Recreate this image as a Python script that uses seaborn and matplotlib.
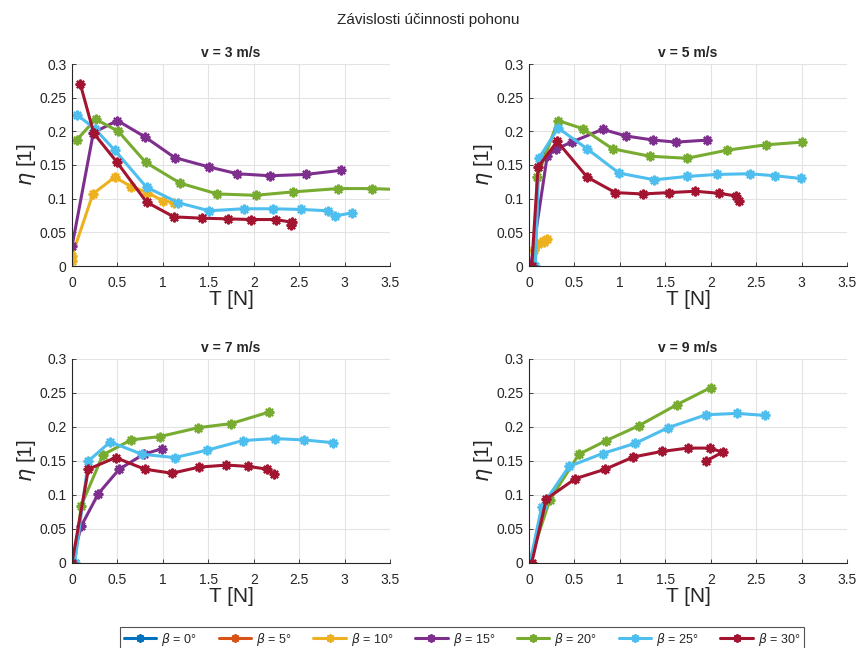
import numpy as np
import pandas as pd
import seaborn as sns
import matplotlib
matplotlib.use("Agg")
import matplotlib.pyplot as plt
from matplotlib.lines import Line2D

# ---- data ----
betas = ["0", "5", "10", "15", "20", "25", "30"]
colors = ["#0072BD", "#D95319", "#EDB120", "#7E2F8E", "#77AC30", "#4DBEEE", "#A2142F"]
speeds = [3, 5, 7, 9]

# v = 3 m/s
v3_b10_T = [0.0, 0.0, 0.23, 0.47, 0.65, 0.83, 1.0, 1.12]
v3_b10_eta = [0.008, 0.015, 0.107, 0.132, 0.118, 0.109, 0.097, 0.094]
v3_b15_T = [0.0, 0.235, 0.50, 0.80, 1.13, 1.51, 1.82, 2.18, 2.57, 2.96]
v3_b15_eta = [0.029, 0.198, 0.216, 0.192, 0.161, 0.147, 0.137, 0.134, 0.136, 0.142]
v3_b20_T = [0.05, 0.26, 0.51, 0.81, 1.19, 1.60, 2.02, 2.43, 2.93, 3.30, 3.70]
v3_b20_eta = [0.187, 0.218, 0.200, 0.154, 0.123, 0.107, 0.105, 0.110, 0.115, 0.115, 0.113]
v3_b25_T = [0.06, 0.25, 0.47, 0.82, 1.17, 1.51, 1.89, 2.21, 2.52, 2.82, 2.89, 3.08]
v3_b25_eta = [0.224, 0.204, 0.172, 0.117, 0.094, 0.082, 0.085, 0.085, 0.084, 0.082, 0.074, 0.079]
v3_b30_T = [0.09, 0.24, 0.49, 0.82, 1.12, 1.43, 1.72, 1.97, 2.24, 2.42, 2.41]
v3_b30_eta = [0.271, 0.197, 0.155, 0.095, 0.073, 0.071, 0.070, 0.069, 0.069, 0.065, 0.061]

# v = 5 m/s
v5_b10_T = [0.05, 0.10, 0.15, 0.20, 0.17]
v5_b10_eta = [0.024, 0.033, 0.037, 0.040, 0.035]
v5_b15_T = [0.02, 0.20, 0.30, 0.47, 0.81, 1.07, 1.37, 1.62, 1.96]
v5_b15_eta = [0.0, 0.163, 0.174, 0.184, 0.203, 0.193, 0.187, 0.184, 0.187]
v5_b20_T = [0.06, 0.09, 0.32, 0.59, 0.92, 1.33, 1.74, 2.18, 2.61, 3.01]
v5_b20_eta = [0.0, 0.132, 0.216, 0.204, 0.174, 0.163, 0.160, 0.172, 0.180, 0.184]
v5_b25_T = [0.07, 0.11, 0.32, 0.64, 0.99, 1.38, 1.74, 2.07, 2.43, 2.71, 2.99]
v5_b25_eta = [0.0, 0.160, 0.205, 0.174, 0.138, 0.128, 0.133, 0.136, 0.137, 0.134, 0.130]
v5_b30_T = [0.03, 0.10, 0.31, 0.64, 0.95, 1.25, 1.54, 1.83, 2.09, 2.28, 2.31]
v5_b30_eta = [0.0, 0.147, 0.185, 0.132, 0.109, 0.107, 0.109, 0.111, 0.108, 0.104, 0.097]

# v = 7 m/s
v7_b15_T = [0.0, 0.10, 0.29, 0.52, 0.79, 0.99]
v7_b15_eta = [0.0, 0.054, 0.102, 0.138, 0.160, 0.168]
v7_b20_T = [0.03, 0.10, 0.34, 0.65, 0.97, 1.39, 1.75, 2.17]
v7_b20_eta = [0.0, 0.084, 0.159, 0.181, 0.186, 0.199, 0.205, 0.222]
v7_b25_T = [0.03, 0.18, 0.42, 0.77, 1.13, 1.49, 1.88, 2.23, 2.55, 2.87]
v7_b25_eta = [0.0, 0.150, 0.178, 0.160, 0.155, 0.166, 0.180, 0.183, 0.181, 0.177]
v7_b30_T = [0.0, 0.18, 0.48, 0.80, 1.10, 1.40, 1.70, 1.94, 2.15, 2.22]
v7_b30_eta = [0.0, 0.138, 0.155, 0.138, 0.132, 0.141, 0.144, 0.142, 0.138, 0.131]

# v = 9 m/s
v9_b20_T = [0.0, 0.23, 0.55, 0.85, 1.21, 1.63, 2.00]
v9_b20_eta = [0.0, 0.093, 0.160, 0.180, 0.202, 0.233, 0.258]
v9_b25_T = [0.01, 0.14, 0.44, 0.81, 1.17, 1.53, 1.95, 2.29, 2.60]
v9_b25_eta = [0.0, 0.083, 0.142, 0.161, 0.176, 0.199, 0.218, 0.220, 0.217]
v9_b30_T = [0.03, 0.19, 0.51, 0.84, 1.15, 1.46, 1.75, 1.99, 2.13, 1.95]
v9_b30_eta = [0.0, 0.094, 0.124, 0.138, 0.156, 0.164, 0.169, 0.169, 0.163, 0.150]

series = {
    3: {"10": (v3_b10_T, v3_b10_eta), "15": (v3_b15_T, v3_b15_eta), "20": (v3_b20_T, v3_b20_eta),
        "25": (v3_b25_T, v3_b25_eta), "30": (v3_b30_T, v3_b30_eta)},
    5: {"10": (v5_b10_T, v5_b10_eta), "15": (v5_b15_T, v5_b15_eta), "20": (v5_b20_T, v5_b20_eta),
        "25": (v5_b25_T, v5_b25_eta), "30": (v5_b30_T, v5_b30_eta)},
    7: {"15": (v7_b15_T, v7_b15_eta), "20": (v7_b20_T, v7_b20_eta),
        "25": (v7_b25_T, v7_b25_eta), "30": (v7_b30_T, v7_b30_eta)},
    9: {"20": (v9_b20_T, v9_b20_eta), "25": (v9_b25_T, v9_b25_eta), "30": (v9_b30_T, v9_b30_eta)},
}

rows = []
for v, d in series.items():
    for b, (T, eta) in d.items():
        for i, (t, e) in enumerate(zip(T, eta)):
            rows.append({"v": v, "beta": b, "T": t, "eta": e, "order": i})
df = pd.DataFrame(rows)

sns.set_theme(style="whitegrid")
plt.rcParams["font.family"] = ["Liberation Sans", "DejaVu Sans"]
plt.rcParams["mathtext.fontset"] = "dejavusans"

palette = dict(zip(betas, colors))
marker = (8, 2, 0)

fig = plt.figure(figsize=(8.57, 6.48), dpi=100)
positions = [
    [72 / 857, 1 - 266 / 648, 318 / 857, 202 / 648],
    [529 / 857, 1 - 266 / 648, 318 / 857, 202 / 648],
    [72 / 857, 1 - 563 / 648, 318 / 857, 204 / 648],
    [529 / 857, 1 - 563 / 648, 318 / 857, 204 / 648],
]
tick_col = "#262626"
for pos, v in zip(positions, speeds):
    ax = fig.add_axes(pos)
    sub = df[df["v"] == v]
    sns.lineplot(data=sub, x="T", y="eta", hue="beta", units="beta", estimator=None,
                 sort=False, palette=palette, ax=ax, legend=False, linewidth=2.2,
                 marker=marker, markersize=7, markeredgewidth=1.6)
    for ln in ax.lines:
        ln.set_markeredgecolor(ln.get_color())
    ax.set_xlim(0, 3.5)
    ax.set_ylim(0, 0.3)
    ax.set_xticks(np.arange(0, 3.51, 0.5))
    ax.set_xticklabels(["0", "0.5", "1", "1.5", "2", "2.5", "3", "3.5"])
    ax.set_yticks(np.arange(0, 0.301, 0.05))
    ax.set_yticklabels(["0", "0.05", "0.1", "0.15", "0.2", "0.25", "0.3"])
    ax.set_facecolor("white")
    ax.grid(True, color="#e3e3e3", linewidth=0.8)
    for s in ["top", "right"]:
        ax.spines[s].set_visible(False)
    for s in ["left", "bottom"]:
        ax.spines[s].set_visible(True)
        ax.spines[s].set_color(tick_col)
        ax.spines[s].set_linewidth(0.8)
    ax.tick_params(axis="both", direction="in", length=3, width=0.6, colors=tick_col,
                   labelsize=10, left=True, bottom=True)
    ax.tick_params(axis="x", pad=7)
    ax.tick_params(axis="y", pad=4)
    ax.set_title(f"v = {v} m/s", fontsize=10, fontweight="bold", pad=5)
    ax.set_xlabel("T [N]", fontsize=15, color=tick_col, labelpad=0)
    ax.set_ylabel(r"$\eta$ [1]", fontsize=15, color=tick_col, labelpad=1)

fig.suptitle("Závislosti účinnosti pohonu", fontsize=11, y=1 - 20 / 648, va="center",
             color=tick_col)

handles = [Line2D([0], [0], color=c, lw=2.2, marker=marker, markersize=6, markeredgewidth=1.4)
           for c in colors]
labels = [rf"$\beta$ = {b}°" for b in betas]
leg = fig.legend(handles, labels, loc="center", bbox_to_anchor=(462 / 857, 1 - 639 / 648),
                 ncol=7, fontsize=9, frameon=True, fancybox=False, handlelength=2.6,
                 columnspacing=1.75, handletextpad=0.4, borderpad=0.3)
leg.get_frame().set_edgecolor("#262626")
leg.get_frame().set_linewidth(0.8)

fig.savefig("out.png", dpi=100)
